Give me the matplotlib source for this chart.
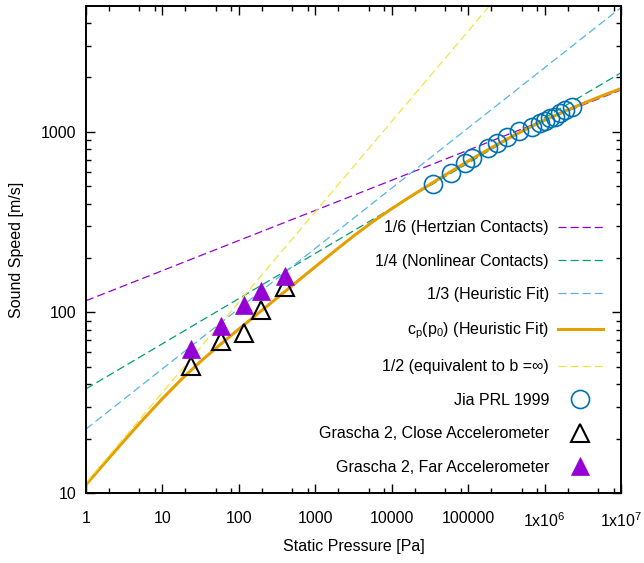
import matplotlib
matplotlib.use("Agg")
import matplotlib.pyplot as plt
from matplotlib.ticker import FixedLocator, NullFormatter, LogLocator

plt.rcParams['font.family'] = ['Liberation Sans', 'DejaVu Sans']
plt.rcParams['mathtext.fontset'] = 'custom'
plt.rcParams['mathtext.rm'] = 'Liberation Sans'
plt.rcParams['mathtext.it'] = 'Liberation Sans:italic'
plt.rcParams['mathtext.default'] = 'regular'
plt.rcParams['lines.scale_dashes'] = False

# ---- data ----
line_p = [1, 1e7]
sixth_c = [116, 1703]      # 1/6 power law
quarter_c = [37.7, 2120]   # 1/4 power law
third_c = [22.6, 4868]     # 1/3 power law
half_c = [11.4, 36050]     # 1/2 power law

fit_p = [1, 1.778, 3.162, 5.623, 10, 17.78, 31.62, 56.23, 100, 177.8, 316.2,
         562.3, 1000, 1778, 3162, 5623, 1e4, 17780, 31620, 56230, 1e5,
         177800, 316200, 562300, 1e6, 1778000, 3162000, 5623000, 1e7]
fit_c = [11.12, 14.74, 19.49, 25.62, 33.29, 42.64, 53.53, 66.03, 80.80, 98.51,
         120.2, 146.6, 178.8, 218.0, 264.4, 317.0, 374.6, 438.9, 511.0, 593.7,
         687.7, 791.5, 906.5, 1029, 1157, 1291, 1432, 1579, 1732]

jia_p = [34700, 59700, 91000, 112000, 182000, 239000, 322000, 463000, 684000,
         871000, 1.01e6, 1.18e6, 1.37e6, 1.59e6, 1.85e6, 2.28e6]
jia_c = [515, 593, 673, 717, 815, 871, 938, 1003, 1064, 1116, 1149, 1189,
         1213, 1267, 1322, 1378]

grascha_p = [23.4, 58.9, 117, 193, 398]
close_c = [50.2, 69.0, 76.8, 103, 139]
far_c = [62.7, 83.6, 110, 130.6, 158]

x_ticks = [1, 10, 100, 1000, 1e4, 1e5, 1e6, 1e7]
x_labels = ['1', '10', '100', '1000', '10000', '100000', '1x10$^{6}$', '1x10$^{7}$']
y_ticks = [10, 100, 1000]
y_labels = ['10', '100', '1000']

labels = ['1/6 (Hertzian Contacts)', '1/4 (Nonlinear Contacts)',
          '1/3 (Heuristic Fit)', 'c$_{p}$(p$_{0}$) (Heuristic Fit)',
          '1/2 (equivalent to b =\u221e)', 'Jia PRL 1999',
          'Grascha 2, Close Accelerometer', 'Grascha 2, Far Accelerometer']

# ---- figure ----
fig = plt.figure(figsize=(6.44, 5.63), dpi=100)
ax = fig.add_axes([86/644, 70/563, (621-86)/644, (557-70)/563])
ax.set_xscale('log')
ax.set_yscale('log')

dash = (5.8, 2.9)
ax.plot(line_p, sixth_c, color='#9400d3', lw=0.9, dashes=dash, label=labels[0])
ax.plot(line_p, quarter_c, color='#009e73', lw=0.9, dashes=dash, label=labels[1])
ax.plot(line_p, third_c, color='#56b4e9', lw=0.9, dashes=dash, label=labels[2])
ax.plot(fit_p, fit_c, color='#e69f00', lw=2.2, label=labels[3])
ax.plot(line_p, half_c, color='#f0e442', lw=0.9, dashes=dash, label=labels[4])
ax.plot(jia_p, jia_c, linestyle='none', marker='o', ms=13, mfc='none',
        mec='#0072b2', mew=1.2, label=labels[5])
ax.plot(grascha_p, close_c, linestyle='none', marker='^', ms=13, mfc='none',
        mec='black', mew=1.5, label=labels[6])
ax.plot(grascha_p, far_c, linestyle='none', marker='^', ms=13, mfc='#9400d3',
        mec='#9400d3', mew=0.5, label=labels[7])

ax.set_xlim(1, 1e7)
ax.set_ylim(10, 4965)

ax.xaxis.set_major_locator(FixedLocator(x_ticks))
ax.set_xticklabels(x_labels)
ax.yaxis.set_major_locator(FixedLocator(y_ticks))
ax.set_yticklabels(y_labels)
ax.xaxis.set_minor_locator(LogLocator(base=10, subs=(2, 5, 8), numticks=20))
ax.yaxis.set_minor_locator(LogLocator(base=10, subs=(2, 3, 4, 5, 6, 7, 8, 9), numticks=20))
ax.xaxis.set_minor_formatter(NullFormatter())
ax.yaxis.set_minor_formatter(NullFormatter())

ax.tick_params(which='both', direction='in', top=True, right=True, width=1.0,
               labelsize=11.5, colors='black')
ax.tick_params(which='major', length=6.5)
ax.tick_params(which='minor', length=3.5)
ax.tick_params(axis='x', which='major', pad=13)
ax.tick_params(axis='y', which='major', pad=7)
for s in ax.spines.values():
    s.set_linewidth(1.4)

ax.set_xlabel('Static Pressure [Pa]', fontsize=11.5, labelpad=7)
ax.set_ylabel('Sound Speed [m/s]', fontsize=11.5, labelpad=12)

leg = ax.legend(loc='upper right', bbox_to_anchor=(0.9775, 0.573), frameon=False,
                markerfirst=False, fontsize=11.5, handlelength=2.8,
                handletextpad=0.55, labelspacing=1.15, borderaxespad=0)

fig.savefig('out.png', dpi=100)
